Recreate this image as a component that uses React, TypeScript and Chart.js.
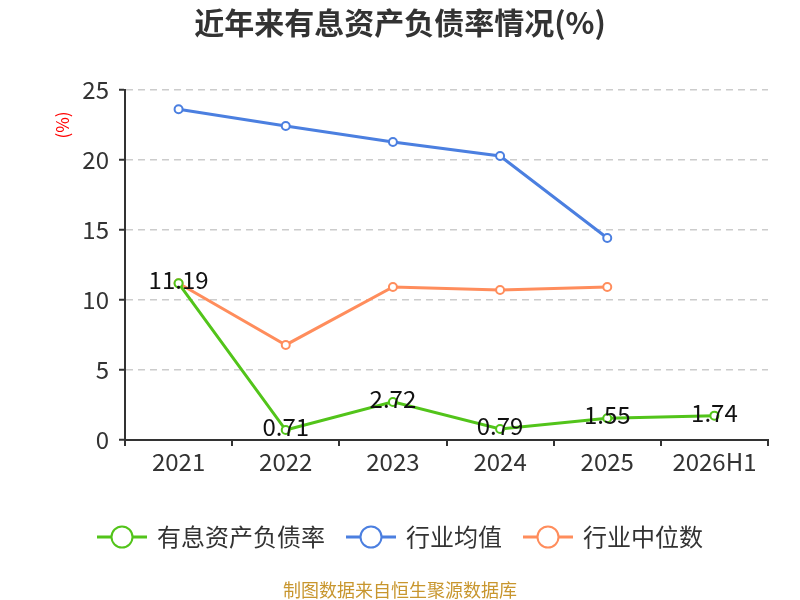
import React, { useEffect, useRef } from "react";
import { Chart, registerables } from "chart.js";

Chart.register(...registerables);

const categories = ["2021", "2022", "2023", "2024", "2025", "2026H1"];
const debtRatio = [11.19, 0.71, 2.72, 0.79, 1.55, 1.74];
const industryAvg = [23.63, 22.43, 21.29, 20.29, 14.43, null];
const industryMedian = [11.2, 6.79, 10.93, 10.71, 10.93, null];
const yTicks = [0, 5, 10, 15, 20, 25];

const seriesLabels = ["有息资产负债率", "行业均值", "行业中位数"];
const seriesColors = ["#52c41a", "#4b7fe0", "#ff8d5c"];

const FONT = '"Noto Sans CJK SC", "Noto Sans", sans-serif';

const labelPlugin = {
  id: "customDecor",
  afterDatasetsDraw(chart: any) {
    const ctx = chart.ctx;
    const meta = chart.getDatasetMeta(0);
    ctx.save();
    ctx.font = `24px ${FONT}`;
    ctx.fillStyle = "#111";
    ctx.textAlign = "center";
    ctx.textBaseline = "middle";
    meta.data.forEach((pt: any, i: number) => {
      const v = debtRatio[i];
      if (v == null) return;
      ctx.fillText(v.toFixed(2), pt.x, pt.y - 3);
    });
    ctx.restore();
  },
  afterDraw(chart: any) {
    const ctx = chart.ctx;
    ctx.save();
    // title
    ctx.font = `bold 30px ${FONT}`;
    ctx.fillStyle = "#333";
    ctx.textAlign = "center";
    ctx.textBaseline = "middle";
    ctx.fillText("近年来有息资产负债率情况(%)", 400, 23);

    // y unit
    ctx.save();
    ctx.translate(63, 125);
    ctx.rotate(-Math.PI / 2);
    ctx.font = `17px ${FONT}`;
    ctx.fillStyle = "#ff0000";
    ctx.fillText("(%)", 0, 0);
    ctx.restore();

    // legend
    ctx.font = `24px ${FONT}`;
    const iconW = 50;
    const gapText = 10;
    const gapItem = 21;
    const widths = seriesLabels.map((l) => ctx.measureText(l).width);
    let total = 0;
    widths.forEach((w, i) => {
      total += iconW + gapText + w + (i < widths.length - 1 ? gapItem : 0);
    });
    let x = 400 - total / 2;
    const ly = 537;
    seriesLabels.forEach((l, i) => {
      ctx.strokeStyle = seriesColors[i];
      ctx.lineWidth = 3;
      ctx.beginPath();
      ctx.moveTo(x, ly);
      ctx.lineTo(x + iconW, ly);
      ctx.stroke();
      ctx.beginPath();
      ctx.arc(x + iconW / 2, ly, 10.5, 0, Math.PI * 2);
      ctx.fillStyle = "#fff";
      ctx.fill();
      ctx.lineWidth = 2;
      ctx.stroke();
      ctx.fillStyle = "#333";
      ctx.textAlign = "left";
      ctx.fillText(l, x + iconW + gapText, ly);
      x += iconW + gapText + widths[i] + gapItem;
    });

    // footer
    ctx.font = `18px ${FONT}`;
    ctx.fillStyle = "#c8962e";
    ctx.textAlign = "center";
    ctx.fillText("制图数据来自恒生聚源数据库", 400, 590);
    ctx.restore();
  },
};

export default function App() {
  const ref = useRef<HTMLCanvasElement | null>(null);

  useEffect(() => {
    if (!ref.current) return;
    const mk = (label: string, data: (number | null)[], color: string) => ({
      label,
      data,
      borderColor: color,
      backgroundColor: "#fff",
      borderWidth: 3,
      pointRadius: 4,
      pointBorderWidth: 2,
      pointBackgroundColor: "#fff",
      pointBorderColor: color,
      tension: 0,
      spanGaps: false,
    });
    const chart = new Chart(ref.current, {
      type: "line",
      data: {
        labels: categories,
        datasets: [
          mk(seriesLabels[0], debtRatio, seriesColors[0]),
          mk(seriesLabels[1], industryAvg, seriesColors[1]),
          mk(seriesLabels[2], industryMedian, seriesColors[2]),
        ],
      },
      options: {
        responsive: false,
        animation: false,
        devicePixelRatio: 1,
        layout: { padding: { left: 0, right: 32, top: 90, bottom: 120 } },
        plugins: {
          legend: { display: false },
          title: { display: false },
          tooltip: { enabled: false },
        },
        scales: {
          x: {
            offset: true,
            afterFit: (s: any) => {
              s.height = 40;
            },
            grid: {
              offset: true,
              drawOnChartArea: false,
              drawTicks: true,
              tickLength: 6,
              tickColor: "#333",
              tickWidth: 2,
              lineWidth: 2,
              color: "#333",
            },
            border: { display: true, color: "#333", width: 2 },
            ticks: {
              color: "#333",
              font: { size: 24, family: FONT },
              padding: 1,
              maxRotation: 0,
              autoSkip: false,
            },
          },
          y: {
            min: 0,
            max: 25,
            afterFit: (s: any) => {
              s.width = 125;
            },
            afterBuildTicks: (s: any) => {
              s.ticks = yTicks.map((v) => ({ value: v }));
            },
            grid: {
              color: "#cccccc",
              lineWidth: 1.5,
              drawTicks: true,
              tickLength: 6,
              tickColor: "#333",
              tickWidth: 2,
            },
            border: { display: true, color: "#333", width: 2, dash: [7, 5] },
            ticks: {
              color: "#333",
              font: { size: 24, family: FONT },
              padding: 10,
            },
          },
        },
      },
      plugins: [labelPlugin],
    });
    return () => chart.destroy();
  }, []);

  return (
    <div style={{ position: "fixed", left: 0, top: 0, width: 800, height: 600, background: "#fff" }}>
      <canvas ref={ref} width={800} height={600} style={{ width: 800, height: 600 }} />
    </div>
  );
}
